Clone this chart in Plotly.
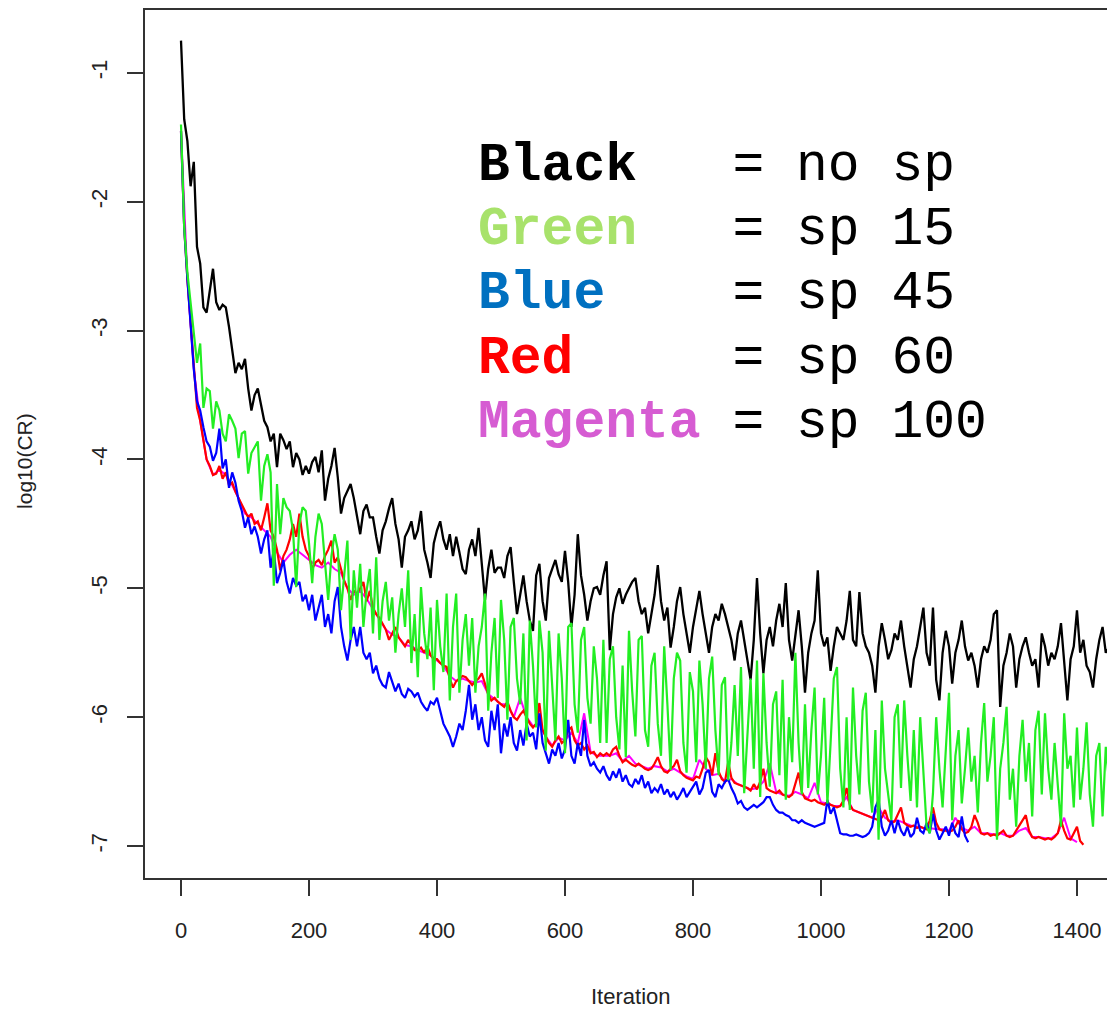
import plotly.graph_objects as go

# ---------------- data (log10 of convergence residual) -------------
STEP_MAIN = 5      # iteration spacing of the sampled points for most series
STEP_MAGENTA = 10  # iteration spacing for the magenta series

black_no_sp = [
    -0.75, -1.36, -1.53, -1.88, -1.69, -2.35, -2.48, -2.82, -2.86, -2.70, -2.52, -2.78, -2.84, -2.80, -2.82, -2.97, -3.14, -3.33, -3.25, -3.30,
    -3.22, -3.45, -3.62, -3.50, -3.45, -3.58, -3.70, -3.75, -3.86, -3.80, -4.06, -3.80, -3.85, -3.92, -3.86, -4.06, -3.95, -4.00, -4.12, -4.05,
    -4.11, -4.02, -3.98, -4.10, -3.93, -4.32, -4.15, -4.05, -3.91, -4.14, -4.42, -4.30, -4.25, -4.19, -4.30, -4.45, -4.58, -4.40, -4.35, -4.45,
    -4.45, -4.60, -4.73, -4.55, -4.48, -4.38, -4.30, -4.50, -4.62, -4.84, -4.60, -4.55, -4.48, -4.62, -4.55, -4.40, -4.70, -4.80, -4.92, -4.65,
    -4.55, -4.48, -4.62, -4.70, -4.58, -4.75, -4.60, -4.72, -4.85, -4.89, -4.70, -4.62, -4.75, -4.53, -4.80, -5.09, -4.85, -4.70, -4.88, -4.84,
    -4.84, -4.92, -4.75, -4.68, -4.95, -5.20, -5.05, -4.90, -5.10, -5.25, -5.33, -4.90, -4.81, -5.10, -5.25, -4.92, -4.85, -4.78, -4.89, -4.95,
    -4.71, -4.95, -5.30, -5.05, -4.58, -4.90, -5.05, -5.25, -5.10, -5.00, -4.99, -5.05, -4.90, -4.79, -5.48, -5.20, -5.07, -5.00, -5.12, -5.05,
    -5.00, -4.95, -4.92, -5.10, -5.20, -5.15, -5.35, -5.20, -5.05, -4.82, -5.10, -5.25, -5.15, -5.46, -5.30, -5.10, -4.99, -5.20, -5.35, -5.50,
    -5.30, -5.15, -5.02, -5.20, -5.35, -5.50, -5.30, -5.20, -5.25, -5.12, -5.20, -5.30, -5.40, -5.56, -5.35, -5.25, -5.40, -5.55, -5.71, -5.40,
    -4.92, -5.35, -5.66, -5.40, -5.30, -5.45, -5.25, -5.12, -5.30, -4.96, -5.40, -5.56, -5.35, -5.17, -5.45, -5.81, -5.50, -5.35, -5.25, -4.86,
    -5.35, -5.45, -5.38, -5.64, -5.45, -5.30, -5.35, -5.40, -5.25, -5.02, -5.40, -5.45, -5.03, -5.35, -5.45, -5.50, -5.60, -5.81, -5.45, -5.27,
    -5.40, -5.55, -5.48, -5.35, -5.40, -5.25, -5.45, -5.60, -5.77, -5.55, -5.45, -5.30, -5.15, -5.50, -5.60, -5.15, -5.71, -5.87, -5.50, -5.33,
    -5.45, -5.74, -5.50, -5.40, -5.25, -5.45, -5.56, -5.50, -5.60, -5.77, -5.55, -5.45, -5.50, -5.40, -5.20, -5.17, -5.92, -5.60, -5.50, -5.35,
    -5.45, -5.77, -5.55, -5.45, -5.38, -5.50, -5.60, -5.55, -5.77, -5.35, -5.45, -5.60, -5.50, -5.55, -5.45, -5.27, -5.60, -5.87, -5.55, -5.45,
    -5.17, -5.50, -5.40, -5.60, -5.65, -5.77, -5.55, -5.40, -5.30, -5.50, -5.46, -5.81, -5.60, -5.50, -5.55, -5.65, -5.50, -5.60, -5.55, -5.70, -5.60,
]

green_sp15 = [
    -1.40, -2.20, -2.55, -2.80, -3.00, -3.25, -3.10, -3.60, -3.45, -3.47, -3.76, -3.55, -3.62, -3.80, -3.86, -3.65, -3.70, -3.76, -3.99, -3.80,
    -3.78, -4.11, -3.95, -3.90, -3.86, -4.32, -4.05, -3.96, -4.10, -4.98, -4.19, -4.58, -4.30, -4.37, -4.40, -4.55, -4.99, -4.50, -4.37, -4.40,
    -4.65, -4.96, -4.60, -4.42, -4.50, -4.80, -5.09, -4.75, -4.58, -4.70, -5.17, -4.90, -4.63, -5.40, -4.86, -5.15, -4.81, -5.30, -5.02, -4.85,
    -5.35, -4.76, -5.40, -5.10, -4.95, -5.25, -5.07, -5.50, -5.20, -5.00, -5.30, -4.86, -5.58, -5.20, -5.69, -4.99, -5.35, -5.55, -5.15, -5.79,
    -5.09, -5.45, -5.65, -5.04, -5.87, -5.30, -5.04, -5.81, -5.40, -5.20, -5.60, -5.23, -5.81, -5.45, -5.30, -5.04, -5.95, -5.50, -5.23, -5.85,
    -5.09, -5.40, -6.02, -5.30, -5.23, -5.70, -5.90, -5.35, -6.18, -5.25, -5.60, -6.08, -5.25, -5.50, -6.26, -5.33, -5.80, -6.18, -5.35, -5.70,
    -6.28, -5.30, -5.27, -5.90, -6.12, -5.40, -5.30, -5.85, -6.05, -5.45, -5.70, -6.20, -5.40, -6.20, -5.55, -5.45, -6.00, -6.25, -5.60, -6.31,
    -5.33, -5.80, -6.15, -5.40, -5.37, -6.10, -6.23, -5.60, -5.50, -6.05, -6.30, -5.45, -5.90, -6.41, -5.70, -5.50, -5.56, -6.20, -6.43, -5.65,
    -5.80, -6.35, -5.56, -5.90, -6.40, -5.70, -5.53, -6.10, -6.45, -5.75, -5.69, -6.49, -6.20, -5.75, -6.30, -5.61, -6.59, -6.10, -5.70, -6.40,
    -5.56, -6.62, -5.66, -6.20, -6.54, -5.90, -5.80, -6.45, -5.71, -6.64, -6.00, -6.35, -5.50, -6.20, -6.60, -5.90, -6.55, -6.10, -5.77, -6.60,
    -6.30, -5.85, -6.67, -6.20, -5.70, -5.61, -6.40, -6.70, -6.00, -6.72, -5.77, -6.30, -6.60, -5.95, -5.81, -6.50, -6.74, -6.10, -6.95, -5.87,
    -6.40, -6.60, -6.80, -6.00, -5.90, -6.55, -5.87, -6.30, -6.65, -6.10, -6.70, -6.00, -6.40, -6.85, -6.90, -6.59, -6.00, -6.40, -6.70, -6.20,
    -5.81, -6.80, -6.30, -6.10, -6.67, -6.40, -6.08, -6.50, -6.30, -6.74, -6.20, -5.89, -6.50, -6.30, -6.00, -6.95, -6.40, -6.20, -5.92, -6.64,
    -6.40, -6.85, -6.30, -6.02, -6.50, -6.20, -6.77, -6.10, -5.95, -6.60, -5.97, -6.40, -6.64, -6.20, -6.50, -6.85, -5.97, -6.40, -6.30, -6.70,
    -6.08, -6.64, -6.40, -6.04, -6.60, -6.85, -6.30, -6.20, -6.77, -6.23, -6.50, -6.31, -6.60, -6.20, -6.45, -6.70, -6.30, -6.10, -6.55, -6.40, -6.30,
]

blue_sp45 = [
    -1.45, -2.20, -2.60, -2.95, -3.30, -3.55, -3.62, -3.75, -3.86, -3.90, -4.01, -3.95, -3.76, -4.07, -4.00, -4.22, -4.10, -4.18, -4.32, -4.40,
    -4.53, -4.45, -4.58, -4.52, -4.60, -4.73, -4.62, -4.55, -4.84, -4.70, -4.96, -4.88, -4.78, -4.95, -5.04, -4.92, -4.98, -4.95, -5.10, -5.05,
    -5.17, -5.05, -5.25, -5.15, -5.05, -5.30, -5.20, -5.35, -5.10, -4.99, -5.30, -5.45, -5.56, -5.40, -5.30, -5.45, -5.30, -5.50, -5.55, -5.50,
    -5.66, -5.60, -5.70, -5.75, -5.77, -5.65, -5.72, -5.80, -5.74, -5.82, -5.85, -5.78, -5.80, -5.84, -5.81, -5.88, -5.92, -5.95, -5.88, -5.90,
    -5.85, -5.95, -6.05, -6.10, -6.15, -6.23, -6.15, -6.05, -6.10, -5.95, -5.75, -6.02, -5.90, -6.10, -6.00, -6.18, -6.23, -5.95, -6.10, -5.90,
    -6.28, -6.05, -6.15, -6.00, -6.20, -6.26, -6.10, -6.22, -6.05, -6.15, -6.12, -6.25, -5.97, -6.20, -6.28, -6.36, -6.25, -6.30, -6.20, -6.32,
    -6.25, -6.02, -6.30, -6.36, -6.20, -6.30, -6.02, -6.30, -6.38, -6.35, -6.40, -6.43, -6.38, -6.45, -6.49, -6.42, -6.47, -6.40, -6.50, -6.45,
    -6.52, -6.54, -6.48, -6.52, -6.45, -6.55, -6.50, -6.59, -6.55, -6.58, -6.52, -6.60, -6.56, -6.62, -6.58, -6.64, -6.60, -6.55, -6.62, -6.58,
    -6.55, -6.50, -6.60, -6.55, -6.43, -6.41, -6.58, -6.62, -6.52, -6.55, -6.50, -6.48, -6.55, -6.60, -6.67, -6.65, -6.70, -6.72, -6.70, -6.68,
    -6.70, -6.68, -6.66, -6.62, -6.62, -6.68, -6.72, -6.74, -6.74, -6.76, -6.77, -6.80, -6.80, -6.82, -6.80, -6.82, -6.83, -6.84, -6.85, -6.84,
    -6.83, -6.82, -6.64, -6.75, -6.70, -6.80, -6.90, -6.91, -6.91, -6.92, -6.92, -6.91, -6.92, -6.93, -6.92, -6.90, -6.85, -6.70, -6.64, -6.85,
    -6.92, -6.88, -6.80, -6.90, -6.80, -6.88, -6.92, -6.85, -6.93, -6.90, -6.78, -6.88, -6.90, -6.82, -6.90, -6.75, -6.88, -6.95, -6.90, -6.85,
    -6.92, -6.82, -6.90, -6.93, -6.77, -6.92, -6.97,
]

red_sp60 = [
    -1.45, -2.20, -2.60, -2.95, -3.30, -3.60, -3.70, -3.85, -4.00, -4.05, -4.12, -4.11, -4.05, -4.15, -4.10, -4.20, -4.18, -4.25, -4.30, -4.35,
    -4.40, -4.45, -4.42, -4.50, -4.48, -4.55, -4.45, -4.34, -4.55, -4.60, -4.70, -4.86, -4.75, -4.70, -4.62, -4.50, -4.60, -4.42, -4.60, -4.70,
    -4.75, -4.85, -4.80, -4.78, -4.82, -4.75, -4.70, -4.63, -4.80, -4.76, -4.85, -4.94, -5.00, -5.09, -5.02, -5.04, -5.00, -4.95, -5.10, -5.02,
    -5.15, -5.20, -5.23, -5.28, -5.32, -5.40, -5.35, -5.30, -5.38, -5.42, -5.45, -5.40, -5.44, -5.48, -5.48, -5.46, -5.50, -5.45, -5.52, -5.55,
    -5.55, -5.58, -5.60, -5.61, -5.70, -5.77, -5.72, -5.70, -5.68, -5.69, -5.72, -5.75, -5.72, -5.70, -5.66, -5.75, -5.82, -5.87, -5.85, -5.88,
    -5.90, -5.92, -5.88, -5.95, -6.00, -6.02, -5.98, -5.95, -6.00, -6.05, -6.08, -6.05, -5.89, -6.10, -6.15, -6.20, -6.23, -6.18, -6.15, -6.20,
    -6.18, -6.10, -6.08, -6.18, -6.22, -6.20, -6.25, -6.22, -6.28, -6.27, -6.31, -6.28, -6.30, -6.28, -6.30, -6.25, -6.23, -6.30, -6.35, -6.33,
    -6.35, -6.37, -6.38, -6.36, -6.38, -6.40, -6.41, -6.40, -6.36, -6.31, -6.38, -6.42, -6.43, -6.40, -6.38, -6.33, -6.42, -6.45, -6.47, -6.48,
    -6.49, -6.46, -6.47, -6.40, -6.31, -6.35, -6.45, -6.28, -6.42, -6.48, -6.50, -6.35, -6.47, -6.51, -6.52, -6.53, -6.54, -6.55, -6.57, -6.52,
    -6.56, -6.50, -6.40, -6.55, -6.57, -6.58, -6.59, -6.57, -6.60, -6.61, -6.62, -6.60, -6.52, -6.43, -6.58, -6.63, -6.64, -6.65, -6.64, -6.66,
    -6.67, -6.68, -6.66, -6.68, -6.69, -6.70, -6.69, -6.65, -6.55, -6.68, -6.72, -6.73, -6.74, -6.75, -6.76, -6.77, -6.78, -6.79, -6.80, -6.78,
    -6.72, -6.80, -6.82, -6.81, -6.75, -6.70, -6.82, -6.84, -6.85, -6.84, -6.86, -6.85, -6.86, -6.87, -6.80, -6.70, -6.82, -6.87, -6.88, -6.88,
    -6.89, -6.88, -6.85, -6.80, -6.87, -6.90, -6.89, -6.85, -6.76, -6.82, -6.90, -6.91, -6.90, -6.92, -6.91, -6.92, -6.90, -6.88, -6.92, -6.93,
    -6.92, -6.88, -6.85, -6.80, -6.76, -6.88, -6.93, -6.94, -6.93, -6.94, -6.95, -6.94, -6.95, -6.93, -6.90, -6.80, -6.88, -6.94, -6.95, -6.90,
    -6.85, -6.96, -6.99,
]

magenta_sp100 = [
    -1.45, -2.60, -3.30, -3.70, -4.00, -4.12, -4.08, -4.12, -4.20, -4.30,
    -4.42, -4.45, -4.50, -4.55, -4.60, -4.72, -4.80, -4.74, -4.70, -4.74,
    -4.78, -4.82, -4.84, -4.80, -4.85, -4.88, -5.00, -5.05, -5.02, -5.08,
    -5.16, -5.24, -5.32, -5.36, -5.38, -5.44, -5.45, -5.48, -5.50, -5.52,
    -5.56, -5.60, -5.68, -5.72, -5.70, -5.72, -5.73, -5.72, -5.82, -5.86,
    -5.90, -5.90, -6.00, -5.85, -6.00, -6.07, -6.05, -6.15, -6.22, -6.16,
    -6.18, -6.12, -6.20, -5.97, -6.27, -6.30, -6.30, -6.30, -6.28, -6.34,
    -6.30, -6.36, -6.38, -6.40, -6.38, -6.39, -6.42, -6.40, -6.43, -6.46,
    -6.48, -6.33, -6.40, -6.45, -6.44, -6.50, -6.48, -6.52, -6.54, -6.56,
    -6.55, -6.50, -6.36, -6.58, -6.60, -6.61, -6.58, -6.60, -6.63, -6.51,
    -6.66, -6.67, -6.69, -6.69, -6.62, -6.72, -6.74, -6.76, -6.78, -6.70,
    -6.78, -6.81, -6.80, -6.82, -6.84, -6.85, -6.86, -6.86, -6.87, -6.87,
    -6.88, -6.78, -6.86, -6.88, -6.85, -6.90, -6.90, -6.91, -6.90, -6.92,
    -6.92, -6.88, -6.86, -6.93, -6.93, -6.94, -6.94, -6.90, -6.78, -6.94,
    -6.97,
]

x_tick_values = [0, 200, 400, 600, 800, 1000, 1200, 1400]
x_tick_labels = ["0", "200", "400", "600", "800", "1000", "1200", "1400"]
y_tick_values = [-1, -2, -3, -4, -5, -6, -7]
y_tick_labels = ["-1", "-2", "-3", "-4", "-5", "-6", "-7"]

legend_names = ["Black", "Green", "Blue", "Red", "Magenta"]
legend_meaning = ["= no sp", "= sp 15", "= sp 45", "= sp 60", "= sp 100"]
legend_colors = ["#000000", "#A8E26B", "#0070C0", "#FF0000", "#D65CD2"]

# ---------------- figure -------------
# The page body has an 8px margin; the figure is sized so it ends at the window edge.
PAGE_OFFSET = 8
W, H = 1115 - PAGE_OFFSET, 1011 - PAGE_OFFSET
# target plot box in window pixels: left 145, top 8, bottom 878, right = window edge
ML = 145 - PAGE_OFFSET
MT = 8 - PAGE_OFFSET
MR = 0
MB = (1011 - 878)
PLOT_W = W - ML - MR
PLOT_H = H - MT - MB
X_RANGE = [-56.25, 1459.4]
Y_RANGE = [-7.248, -0.512]


def iterations(vals, step):
    return [i * step for i in range(len(vals))]


def px_to_paper(px, py):
    """window pixel -> paper coordinate"""
    fx = px - PAGE_OFFSET
    fy = py - PAGE_OFFSET
    return (fx - ML) / PLOT_W, (H - MB - fy) / PLOT_H


fig = go.Figure()
series = [
    (black_no_sp, STEP_MAIN, "#000000", 2.3),
    (magenta_sp100, STEP_MAGENTA, "#FF00FF", 2),
    (red_sp60, STEP_MAIN, "#FF0000", 2.2),
    (blue_sp45, STEP_MAIN, "#0000FF", 2.2),
    (green_sp15, STEP_MAIN, "#22EE22", 2.2),
]
for vals, step, color, wdt in series:
    fig.add_trace(go.Scatter(
        x=iterations(vals, step), y=vals, mode="lines",
        line=dict(color=color, width=wdt), showlegend=False, hoverinfo="skip",
    ))

axis_color = "#333333"
fig.update_layout(
    width=W, height=H,
    margin=dict(l=ML, r=MR, t=MT, b=MB, pad=0),
    paper_bgcolor="white", plot_bgcolor="white",
    showlegend=False,
    font=dict(family="Liberation Sans, Arial, sans-serif", size=22, color="#222222"),
)
fig.update_xaxes(
    range=X_RANGE, tickmode="array", tickvals=x_tick_values, ticktext=x_tick_labels,
    showgrid=False, zeroline=False, showline=True, mirror=True,
    linecolor=axis_color, linewidth=2,
    ticks="outside", ticklen=16, tickwidth=1.5, tickcolor=axis_color,
    ticklabelstandoff=16,
)
fig.update_yaxes(
    range=Y_RANGE, tickmode="array", tickvals=y_tick_values, ticktext=y_tick_labels,
    showgrid=False, zeroline=False, showline=True, mirror=False,
    linecolor=axis_color, linewidth=2,
    ticks="outside", ticklen=16, tickwidth=1.5, tickcolor=axis_color,
    tickangle=-90, ticklabelstandoff=11,
)

annotations = []
xp, yp = px_to_paper(631, 997)
annotations.append(dict(text="Iteration", x=xp, y=yp, xref="paper", yref="paper",
                        showarrow=False, xanchor="center", yanchor="middle",
                        font=dict(size=22, color="#222222")))
xp, yp = px_to_paper(25, 460)
annotations.append(dict(text="log10(CR)", x=xp, y=yp, xref="paper", yref="paper",
                        showarrow=False, xanchor="center", yanchor="middle", textangle=-90,
                        font=dict(size=21, color="#222222")))

NB = "\u00a0"
legend_left_px = 476
legend_first_center_px = 164
legend_line_gap_px = 64.5
for i, (nm, meaning, col) in enumerate(zip(legend_names, legend_meaning, legend_colors)):
    pad = NB * (8 - len(nm))
    txt = f'<span style="color:{col}"><b>{nm}</b></span>{pad}{meaning.replace(" ", NB)}'
    xp, yp = px_to_paper(legend_left_px, legend_first_center_px + i * legend_line_gap_px)
    annotations.append(dict(text=txt, x=xp, y=yp, xref="paper", yref="paper",
                            showarrow=False, xanchor="left", yanchor="middle",
                            font=dict(family="Liberation Mono, Courier New, monospace",
                                      size=53, color="#000000")))
fig.update_layout(annotations=annotations)

fig.write_html("out.html")
